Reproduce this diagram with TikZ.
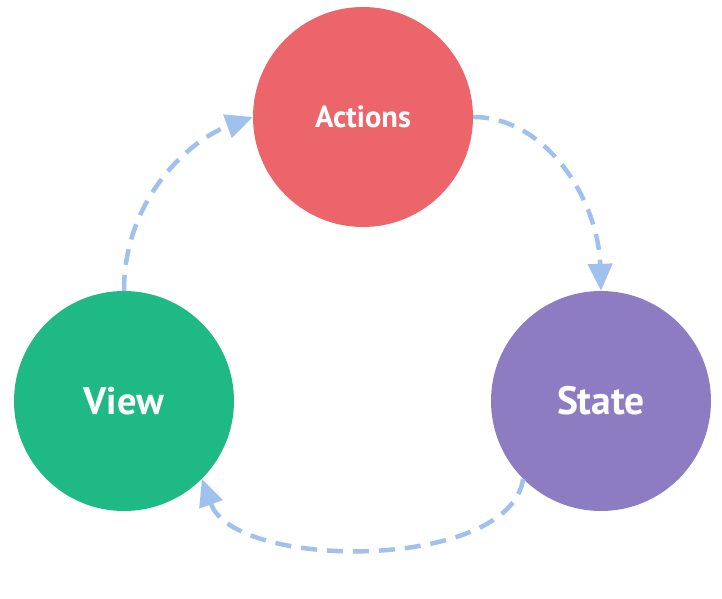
\documentclass[tikz,border=0pt]{standalone}
\usepackage{fontspec}
\setmainfont{PT Sans}
\usetikzlibrary{arrows.meta}
\definecolor{actc}{HTML}{EB656B}
\definecolor{viewc}{HTML}{1FB985}
\definecolor{statec}{HTML}{8E7CC3}
\definecolor{arrc}{HTML}{A0C0EE}
\begin{document}
\begin{tikzpicture}[x=1pt,y=1pt,
  circ/.style={circle,minimum size=220pt,inner sep=0pt,text=white},
  flow/.style={draw=arrc,line width=4.5pt,dash pattern=on 16pt off 10pt,
    -{Triangle[length=27pt,width=24pt]}}]
\useasboundingbox (0,0) rectangle (722,598);
\node[circ,fill=actc,font=\bfseries\fontsize{30.5}{34}\selectfont] (act) at (363,481) {Actions};
\node[circ,fill=viewc,font=\bfseries\fontsize{38.5}{42}\selectfont] (view) at (124,197) {View};
\node[circ,fill=statec,font=\bfseries\fontsize{39.5}{42}\selectfont] (state) at (601,197) {State};
\draw[flow] (view.north) .. controls (124,400) and (190,458) .. (act.west);
\draw[flow] (act.east) .. controls (545,481) and (598,400) .. (state.north);
\draw[flow] (state.-135) .. controls (510,27) and (235,27) .. (view.-45);
\end{tikzpicture}
\end{document}
